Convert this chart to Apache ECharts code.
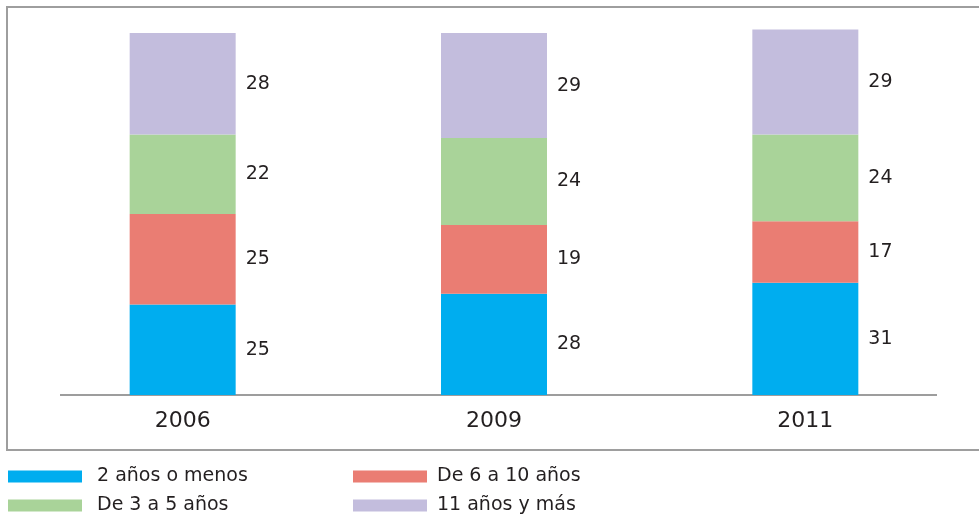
<!DOCTYPE html>
<html>
<head>
<meta charset="utf-8">
<script src="https://cdn.jsdelivr.net/npm/echarts@6/dist/echarts.min.js"></script>
<style>
  html, body { margin: 0; padding: 0; background: #fff; }
  #chart { width: 979px; height: 519px; }
</style>
</head>
<body>
<div id="chart"></div>
<script>
  var years = ['2006', '2009', '2011'];
  var seriesNames = ['2 años o menos', 'De 6 a 10 años', 'De 3 a 5 años', '11 años y más'];
  var dosOMenos = [25, 28, 31];
  var seisADiez = [25, 19, 17];
  var tresACinco = [22, 24, 24];
  var onceYMas = [28, 29, 29];

  var colors = ['#00adef', '#ea7d73', '#a9d399', '#c3bddd'];
  var values = [dosOMenos, seisADiez, tresACinco, onceYMas];
  var font = 'DejaVu Sans';

  var chart = echarts.init(document.getElementById('chart'));

  var series = values.map(function (v, i) {
    return {
      name: seriesNames[i],
      type: 'bar',
      stack: 'total',
      data: v,
      barWidth: 106,
      itemStyle: { color: colors[i] },
      label: {
        show: true,
        position: 'right',
        distance: 10,
        color: '#231f20',
        fontSize: 19,
        fontFamily: font
      }
    };
  });

  function legendCol(names, left, textPad) {
    return {
      data: names,
      orient: 'vertical',
      left: left,
      top: 467,
      height: 60,
      padding: 0,
      itemWidth: 74,
      itemHeight: 12,
      itemGap: 10,
      icon: 'rect',
      textStyle: { color: '#231f20', fontSize: 19, fontFamily: font, padding: [0, 0, 0, textPad] }
    };
  }

  chart.setOption({
    animation: false,
    grid: { left: 27, right: 18, top: 15, bottom: 124 },
    xAxis: {
      type: 'category',
      data: years,
      axisLine: { show: false },
      axisTick: { show: false },
      axisLabel: { color: '#231f20', fontSize: 22, fontFamily: font, margin: 15 }
    },
    yAxis: {
      type: 'value',
      min: 0,
      max: 105,
      show: false,
      splitLine: { show: false }
    },
    legend: [
      legendCol(['2 años o menos', 'De 3 a 5 años'], 8, 10),
      legendCol(['De 6 a 10 años', '11 años y más'], 353, 5)
    ],
    graphic: [
      {
        type: 'rect',
        silent: true,
        shape: { x: 7, y: 7, width: 990, height: 443 },
        style: { fill: 'none', stroke: '#9e9e9e', lineWidth: 2 }
      },
      {
        type: 'line',
        silent: true,
        shape: { x1: 60, y1: 395, x2: 937, y2: 395 },
        style: { stroke: '#9d9d9d', lineWidth: 2 }
      }
    ],
    series: series
  });
</script>
</body>
</html>
